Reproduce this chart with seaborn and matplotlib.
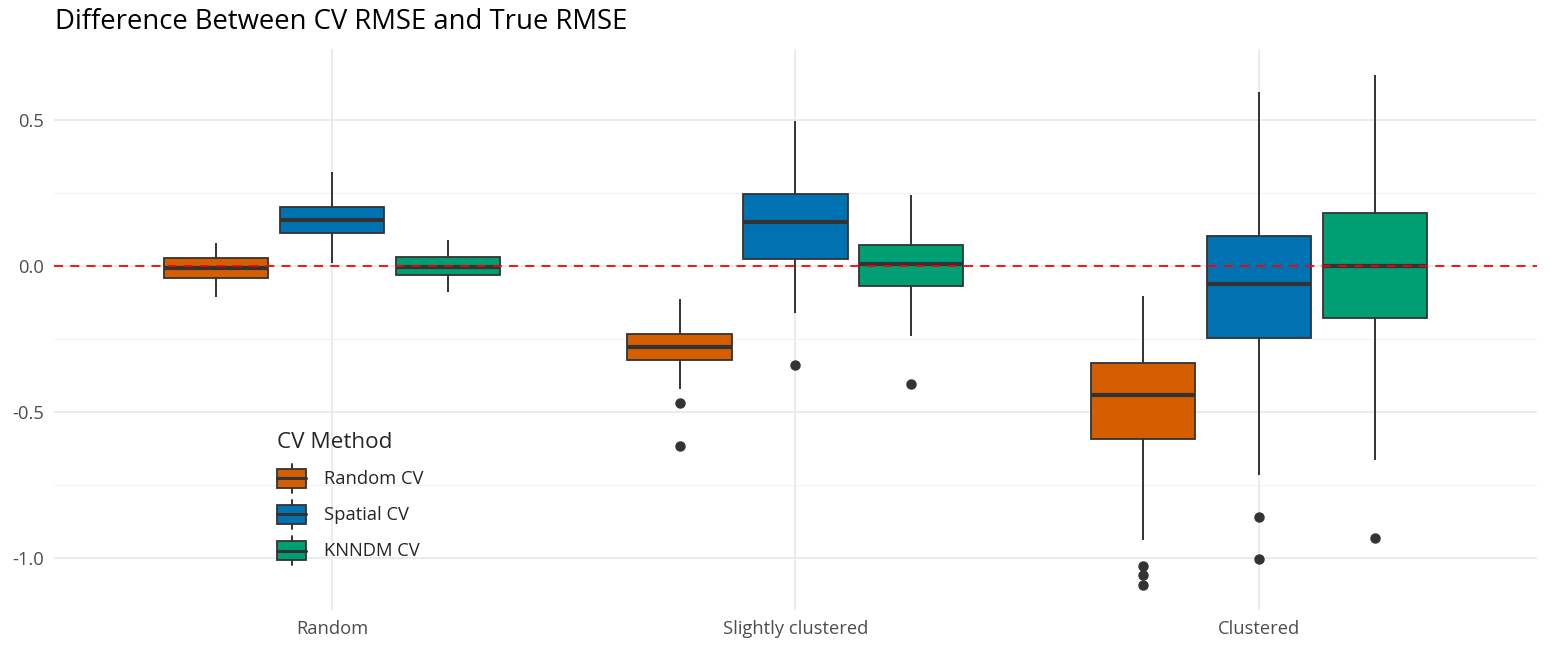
import pandas as pd
import matplotlib
matplotlib.use('Agg')
import matplotlib.pyplot as plt
from matplotlib.legend_handler import HandlerBase
from matplotlib.patches import Rectangle
from matplotlib.lines import Line2D
import seaborn as sns

# Datos (orden: escenario x método)
scenarios = ['Random', 'Slightly clustered', 'Clustered']
methods = ['Random CV', 'Spatial CV', 'KNNDM CV']
colors = ['#D55E00', '#0072B2', '#009E73']

whisk_lo = [-0.106, 0.010, -0.089,
            -0.422, -0.161, -0.240,
            -0.940, -0.717, -0.666]
q1 = [-0.041, 0.113, -0.031,
      -0.322, 0.024, -0.069,
      -0.593, -0.247, -0.178]
median = [-0.007, 0.158, -0.003,
          -0.278, 0.151, 0.007,
          -0.443, -0.062, 0.000]
q3 = [0.027, 0.202, 0.031,
      -0.233, 0.247, 0.072,
      -0.333, 0.103, 0.182]
whisk_hi = [0.079, 0.322, 0.089,
            -0.113, 0.497, 0.244,
            -0.103, 0.597, 0.655]
outliers = [[], [], [],
            [-0.470, -0.617], [-0.340], [-0.405],
            [-1.029, -1.060, -1.094], [-0.861, -1.005], [-0.933]]

# Construir muestras de 17 puntos que reproducen los cuartiles
rows = []
i = 0
for s in scenarios:
    for m in methods:
        low = sorted(outliers[i]) + [whisk_lo[i]]
        low = low + [whisk_lo[i]] * (4 - len(low))
        vals = low + [q1[i]] + [median[i]] * 7 + [q3[i]] + [whisk_hi[i]] * 4
        for v in vals:
            rows.append({'Scenario': s, 'CV Method': m, 'diff': v})
        i += 1
df = pd.DataFrame(rows)


# Leyenda con forma de caja (como ggplot)
class BoxHandler(HandlerBase):
    def create_artists(self, legend, orig_handle, xdescent, ydescent, width, height,
                       fontsize, trans):
        x0, y0 = -xdescent, -ydescent
        bh = height * 0.68
        by = y0 + (height - bh) / 2
        cx = x0 + width / 2
        fc = orig_handle.get_facecolor()
        w1 = Line2D([cx, cx], [y0, by], color='#333333', lw=1.4, transform=trans)
        w2 = Line2D([cx, cx], [by + bh, y0 + height], color='#333333', lw=1.4, transform=trans)
        r = Rectangle((x0, by), width, bh, facecolor=fc, edgecolor='#333333', lw=1.3,
                      transform=trans)
        md = Line2D([x0, x0 + width], [by + bh / 2, by + bh / 2], color='#333333', lw=2.2,
                    transform=trans)
        return [w1, w2, r, md]


sns.set_style('white')
plt.rcParams['font.family'] = ['Open Sans', 'DejaVu Sans']

fig = plt.figure(figsize=(15.5, 6.5), dpi=100)
ax = fig.add_axes([0.0348, 0.0615, 0.9568, 0.8631])

ax.set_axisbelow(True)

sns.boxplot(data=df, x='Scenario', y='diff', hue='CV Method', order=scenarios,
            hue_order=methods, palette=colors, width=0.75, gap=0.1, ax=ax,
            linecolor='#333333', linewidth=1.3, saturation=1,
            medianprops={'linewidth': 3.0, 'color': '#333333'},
            whiskerprops={'linewidth': 1.4},
            capprops={'linewidth': 0},
            flierprops={'marker': 'o', 'markersize': 6.5, 'markerfacecolor': '#333333',
                        'markeredgecolor': '#333333'})

# La línea roja encima de las cajas
ax.axhline(0, color='red', lw=1.3, ls=(0, (5, 4)), zorder=5)

ax.set_xlim(-0.6, 2.6)
ax.set_ylim(-1.18, 0.743)
ax.set_yticks([-1.0, -0.5, 0.0, 0.5])
ax.set_yticklabels(['-1.0', '-0.5', '0.0', '0.5'])
ax.set_yticks([-0.75, -0.25, 0.25], minor=True)
ax.grid(True, which='major', color='#EBEBEB', lw=1.4)
ax.grid(True, which='minor', axis='y', color='#F2F2F2', lw=0.8)
for sp in ax.spines.values():
    sp.set_visible(False)
ax.tick_params(axis='both', which='both', length=0, labelsize=13.2, colors='#4D4D4D')
ax.tick_params(axis='y', pad=7)
ax.tick_params(axis='x', pad=7)
ax.set_xlabel('')
ax.set_ylabel('')

fig.text(0.0355, 0.966, 'Difference Between CV RMSE and True RMSE', fontsize=19.8,
         ha='left', va='center', color='black')

handles, labels = ax.get_legend_handles_labels()
ax.get_legend().remove()
leg = ax.legend(handles, labels, title='CV Method', loc='upper left',
                bbox_to_anchor=(0.1504, 0.317), frameon=False, fontsize=13.2,
                title_fontsize=16.2, borderpad=0, borderaxespad=0,
                handlelength=1.6, handleheight=2.0, labelspacing=0.42,
                handletextpad=0.95,
                handler_map={type(h): BoxHandler() for h in handles})
leg._legend_box.align = 'left'
leg._legend_box.sep = 8

fig.savefig('out.png', dpi=100, facecolor='white')
